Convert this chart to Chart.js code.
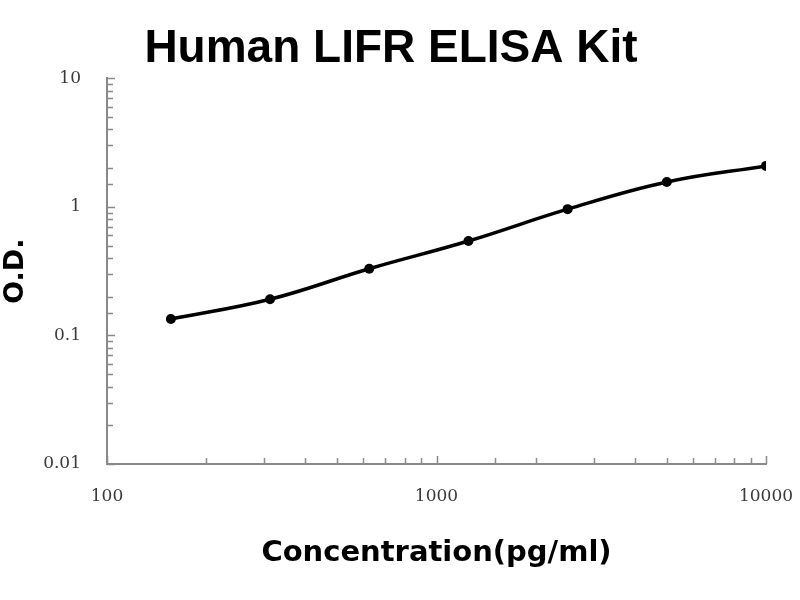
<!DOCTYPE html>
<html>
<head>
<meta charset="utf-8">
<script src="https://cdn.jsdelivr.net/npm/chart.js@4/dist/chart.umd.min.js"></script>
<style>
  body { margin: 0; background: #fff; }
</style>
</head>
<body>
<canvas id="elisaChart" width="800" height="600"></canvas>
<script>
const CHART = document.getElementById('elisaChart')

// standard curve
const concentrations = [156.25, 312.5, 625, 1250, 2500, 5000, 10000]
const odValues = [0.134, 0.191, 0.330, 0.542, 0.959, 1.56, 2.08]
const xTickLabels = [100, 1000, 10000]
const yTickLabels = [0.01, 0.1, 1, 10]

const axisGray = '#8a8a8a'

function isDecade(v) {
    const l = Math.log10(v)
    return Math.abs(l - Math.round(l)) < 1e-6
}

// ticks in the original point into the plot, so draw them ourselves
const innerTicks = {
    id: 'innerTicks',
    afterDatasetsDraw(chart) {
        const ctx = chart.ctx
        const x = chart.scales.x
        const y = chart.scales.y
        ctx.save()
        ctx.strokeStyle = axisGray
        ctx.lineWidth = 1.5
        ctx.beginPath()
        x.ticks.forEach(t => {
            const px = Math.round(x.getPixelForValue(t.value)) + 0.5
            const len = isDecade(t.value) ? 8 : 6
            ctx.moveTo(px, y.bottom)
            ctx.lineTo(px, y.bottom - len)
        })
        y.ticks.forEach(t => {
            const py = Math.round(y.getPixelForValue(t.value)) + 0.5
            const len = isDecade(t.value) ? 8 : 6
            ctx.moveTo(x.left, py)
            ctx.lineTo(x.left + len, py)
        })
        ctx.stroke()
        ctx.restore()
    }
}

let curve = new Chart(CHART, {
    type: 'line',
    data: {
        datasets: [
            {
                label: 'Human LIFR',
                data: concentrations.map((c, i) => ({ x: c, y: odValues[i] })),
                borderColor: '#000',
                backgroundColor: '#000',
                borderWidth: 3.5,
                pointRadius: 5,
                pointBackgroundColor: '#000',
                pointBorderWidth: 0,
                tension: 0.4,
                fill: false
            }
        ]
    },
    options: {
        responsive: false,
        animation: false,
        devicePixelRatio: 1,
        layout: {
            padding: { left: 0, right: 18, top: 0, bottom: 0 }
        },
        plugins: {
            legend: { display: false },
            tooltip: { enabled: false },
            title: {
                display: true,
                text: 'Human LIFR ELISA Kit',
                color: '#000',
                font: { family: 'Liberation Sans', size: 46, weight: 'bold' },
                padding: { top: 22, bottom: 1 }
            }
        },
        scales: {
            x: {
                type: 'logarithmic',
                min: 100,
                max: 10000,
                grid: { display: false, drawTicks: false },
                border: { display: true, color: axisGray, width: 2 },
                ticks: {
                    autoSkip: false,
                    maxRotation: 0,
                    padding: 22,
                    color: '#3a3a3a',
                    font: { family: 'DejaVu Serif', size: 17 },
                    callback: v => xTickLabels.some(t => Math.abs(t - v) < 1e-9) ? String(v) : ''
                },
                title: {
                    display: true,
                    text: 'Concentration(pg/ml)',
                    color: '#000',
                    font: { family: 'DejaVu Sans', size: 29, weight: 'bold' },
                    padding: { top: 10, bottom: 29 }
                },
                afterFit: scale => {
                    scale.height = 136
                    // let the end labels hang over the padding instead of shrinking the plot
                    scale.paddingLeft = 0
                    scale.paddingRight = 0
                }
            },
            y: {
                type: 'logarithmic',
                min: 0.01,
                max: 10,
                grid: { display: false, drawTicks: false },
                border: { display: true, color: axisGray, width: 2 },
                ticks: {
                    autoSkip: false,
                    padding: 26,
                    color: '#3a3a3a',
                    font: { family: 'DejaVu Serif', size: 17 },
                    callback: v => yTickLabels.some(t => Math.abs(t - v) < 1e-9) ? String(v) : ''
                },
                title: {
                    display: true,
                    text: 'O.D.',
                    color: '#000',
                    font: { family: 'DejaVu Sans', size: 27, weight: 'bold' },
                    padding: { top: 0, bottom: 0 }
                },
                afterFit: scale => {
                    scale.width = 107
                    scale.paddingTop = 0
                    scale.paddingBottom = 0
                }
            },
            // empty strip on the right so the title stays centred on the page
            spacer: {
                type: 'linear',
                position: 'right',
                min: 0,
                max: 1,
                grid: { display: false, drawTicks: false },
                border: { display: false },
                ticks: { display: false },
                afterFit: scale => {
                    scale.width = 16
                    scale.paddingTop = 0
                    scale.paddingBottom = 0
                }
            }
        }
    },
    plugins: [innerTicks]
})
</script>
</body>
</html>
